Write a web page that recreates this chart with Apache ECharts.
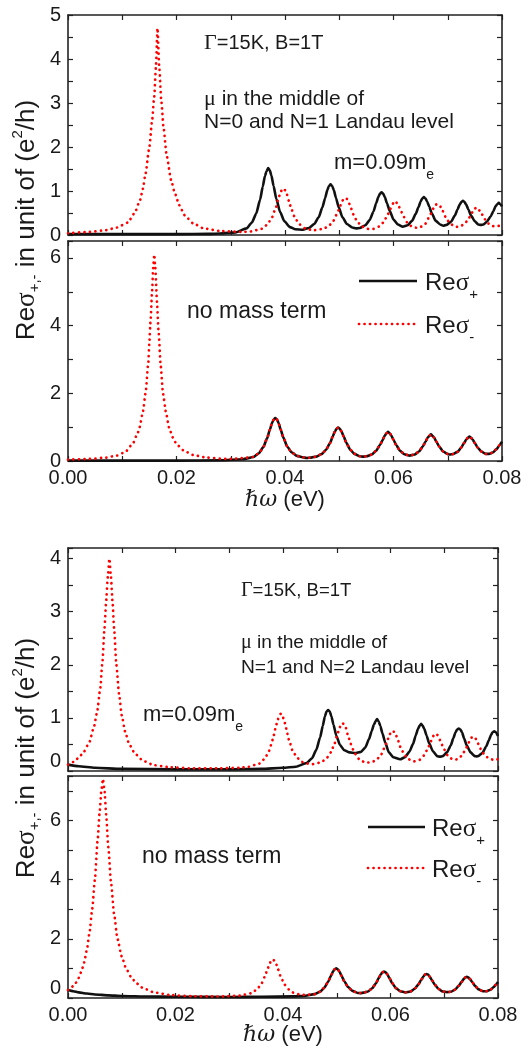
<!DOCTYPE html>
<html>
<head>
<meta charset="utf-8">
<script src="https://cdn.jsdelivr.net/npm/echarts@6/dist/echarts.min.js"></script>
<style>
  html, body { margin: 0; padding: 0; background: #fff; }
  #chart { width: 531px; height: 1055px; }
</style>
</head>
<body>
<div id="chart"></div>
<script>
// Real part of the circular conductivities Re σ+ / Re σ- (units of e²/h)
// versus photon energy ħω (eV), Γ = 15 K, B = 1 T.

const xTickLabels = ['0.00', '0.02', '0.04', '0.06', '0.08'];

// Panel A: μ between N=0 and N=1, m = 0.09 mₑ
const aPlus = [[0,0.02],[0.010,0.02],[0.020,0.02],[0.026,0.025],[0.028,0.035],[0.0309,0.06],[0.0329,0.15],[0.0339,0.285],[0.0347,0.49],[0.0354,0.80],[0.0359,1.10],[0.0363,1.34],[0.0366,1.45],[0.0369,1.52],[0.0372,1.47],[0.0375,1.35],[0.0379,1.11],[0.0384,0.82],[0.0391,0.52],[0.0399,0.31],[0.0409,0.18],[0.0419,0.13],[0.0433,0.12],[0.0444,0.16],[0.0454,0.25],[0.0462,0.40],[0.0469,0.63],[0.0474,0.84],[0.0478,1.02],[0.0481,1.11],[0.0484,1.15],[0.0487,1.11],[0.0490,1.02],[0.0494,0.84],[0.0499,0.63],[0.0506,0.40],[0.0514,0.25],[0.0524,0.17],[0.0531,0.15],[0.0538,0.16],[0.0548,0.22],[0.0556,0.34],[0.0563,0.53],[0.0568,0.72],[0.0572,0.86],[0.0575,0.94],[0.0578,0.97],[0.0581,0.94],[0.0584,0.86],[0.0588,0.72],[0.0593,0.55],[0.0600,0.35],[0.0608,0.24],[0.0617,0.19],[0.0626,0.22],[0.0634,0.32],[0.0641,0.48],[0.0646,0.63],[0.0650,0.76],[0.0653,0.83],[0.0656,0.86],[0.0659,0.83],[0.0662,0.76],[0.0666,0.64],[0.0671,0.48],[0.0678,0.32],[0.0686,0.24],[0.0692,0.21],[0.0698,0.23],[0.0706,0.30],[0.0713,0.44],[0.0718,0.58],[0.0722,0.69],[0.0725,0.75],[0.0728,0.78],[0.0731,0.75],[0.0734,0.69],[0.0738,0.58],[0.0743,0.44],[0.0750,0.31],[0.0756,0.24],[0.0761,0.23],[0.0766,0.24],[0.0772,0.30],[0.0779,0.42],[0.0784,0.54],[0.0788,0.65],[0.0791,0.70],[0.0794,0.73],[0.0797,0.70],[0.0800,0.65]];
const aMinus = [[0,0.04],[0.004,0.07],[0.007,0.11],[0.009,0.17],[0.011,0.28],[0.0123,0.50],[0.0133,0.80],[0.0138,1.05],[0.0143,1.40],[0.0150,2.00],[0.0155,2.60],[0.0159,3.15],[0.0162,3.80],[0.0165,4.70],[0.0168,3.85],[0.0172,3.05],[0.0176,2.45],[0.0182,1.80],[0.0190,1.25],[0.0197,0.95],[0.0205,0.68],[0.0215,0.45],[0.0230,0.27],[0.0250,0.15],[0.0280,0.09],[0.0320,0.07],[0.0337,0.08],[0.0357,0.14],[0.0367,0.23],[0.0375,0.37],[0.0382,0.58],[0.0387,0.78],[0.0391,0.94],[0.0394,1.02],[0.0397,1.06],[0.0400,1.02],[0.0403,0.94],[0.0407,0.78],[0.0412,0.58],[0.0419,0.37],[0.0427,0.24],[0.0437,0.15],[0.0447,0.12],[0.0455,0.11],[0.0471,0.14],[0.0481,0.21],[0.0489,0.32],[0.0496,0.48],[0.0501,0.64],[0.0505,0.76],[0.0508,0.82],[0.0511,0.84],[0.0514,0.82],[0.0517,0.76],[0.0521,0.63],[0.0526,0.47],[0.0533,0.31],[0.0541,0.20],[0.0551,0.14],[0.0558,0.135],[0.0563,0.14],[0.0573,0.19],[0.0581,0.28],[0.0588,0.42],[0.0593,0.56],[0.0597,0.67],[0.0600,0.73],[0.0603,0.77],[0.0606,0.73],[0.0609,0.67],[0.0613,0.57],[0.0618,0.43],[0.0625,0.29],[0.0633,0.20],[0.0642,0.165],[0.0651,0.19],[0.0659,0.26],[0.0666,0.41],[0.0671,0.54],[0.0675,0.64],[0.0678,0.69],[0.0681,0.71],[0.0684,0.69],[0.0687,0.64],[0.0691,0.54],[0.0696,0.41],[0.0703,0.28],[0.0711,0.205],[0.0717,0.185],[0.0723,0.20],[0.0731,0.25],[0.0738,0.36],[0.0743,0.47],[0.0747,0.55],[0.0750,0.60],[0.0753,0.63],[0.0756,0.60],[0.0759,0.55],[0.0763,0.47],[0.0768,0.36],[0.0775,0.26],[0.0783,0.20],[0.0790,0.20],[0.0800,0.22]];

// Panel B: μ between N=0 and N=1, no mass term (σ+ and σ- coincide above ~0.034 eV)
const bPlus = [[0,0.01],[0.020,0.01],[0.028,0.02],[0.0322,0.05],[0.0342,0.12],[0.0352,0.23],[0.0360,0.41],[0.0367,0.67],[0.0372,0.92],[0.0376,1.12],[0.0379,1.22],[0.0382,1.27],[0.0385,1.23],[0.0388,1.13],[0.0392,0.93],[0.0397,0.69],[0.0404,0.43],[0.0412,0.26],[0.0422,0.15],[0.0432,0.11],[0.0440,0.09],[0.0448,0.10],[0.0458,0.13],[0.0468,0.21],[0.0476,0.34],[0.0483,0.53],[0.0488,0.72],[0.0492,0.88],[0.0495,0.95],[0.0498,0.99],[0.0501,0.95],[0.0504,0.88],[0.0508,0.73],[0.0513,0.54],[0.0520,0.34],[0.0528,0.21],[0.0538,0.14],[0.0544,0.13],[0.0550,0.14],[0.0560,0.19],[0.0568,0.30],[0.0575,0.47],[0.0580,0.62],[0.0584,0.75],[0.0587,0.82],[0.0590,0.86],[0.0593,0.82],[0.0596,0.75],[0.0600,0.63],[0.0605,0.47],[0.0612,0.30],[0.0620,0.20],[0.0630,0.16],[0.0639,0.19],[0.0647,0.28],[0.0654,0.43],[0.0659,0.57],[0.0663,0.69],[0.0666,0.74],[0.0669,0.79],[0.0672,0.74],[0.0675,0.69],[0.0679,0.57],[0.0684,0.43],[0.0691,0.29],[0.0699,0.21],[0.0704,0.19],[0.0710,0.205],[0.0718,0.27],[0.0725,0.40],[0.0730,0.53],[0.0734,0.63],[0.0737,0.685],[0.0740,0.72],[0.0743,0.685],[0.0746,0.63],[0.0750,0.53],[0.0755,0.40],[0.0762,0.28],[0.0770,0.21],[0.0776,0.21],[0.0783,0.25],[0.0790,0.35],[0.0795,0.46],[0.0800,0.57]];
const bMinusLow = [[0,0.04],[0.004,0.06],[0.007,0.10],[0.009,0.16],[0.0105,0.26],[0.0119,0.50],[0.0128,0.80],[0.0132,1.00],[0.0138,1.45],[0.0143,2.00],[0.0148,2.90],[0.0150,3.50],[0.0152,4.10],[0.0155,5.00],[0.0157,5.70],[0.0159,6.10],[0.0161,5.70],[0.0164,4.70],[0.0167,3.80],[0.0171,2.80],[0.0175,2.00],[0.0181,1.40],[0.0186,1.00],[0.0193,0.70],[0.0200,0.50],[0.0212,0.32],[0.0230,0.18],[0.0255,0.10],[0.0290,0.06],[0.0310,0.07],[0.0325,0.09]];

// Panel C: μ between N=1 and N=2, m = 0.09 mₑ
const cPlus = [[0,0.12],[0.002,0.09],[0.005,0.06],[0.010,0.04],[0.020,0.03],[0.030,0.03],[0.036,0.04],[0.040,0.06],[0.0424,0.08],[0.0444,0.15],[0.0454,0.24],[0.0462,0.40],[0.0469,0.63],[0.0474,0.85],[0.0478,1.03],[0.0481,1.12],[0.0484,1.15],[0.0487,1.12],[0.0490,1.03],[0.0494,0.87],[0.0499,0.67],[0.0506,0.49],[0.0514,0.39],[0.0524,0.35],[0.0534,0.34],[0.0545,0.36],[0.0553,0.44],[0.0560,0.60],[0.0565,0.75],[0.0569,0.87],[0.0572,0.93],[0.0575,0.98],[0.0578,0.93],[0.0581,0.85],[0.0585,0.71],[0.0590,0.54],[0.0597,0.35],[0.0605,0.26],[0.0618,0.22],[0.0627,0.26],[0.0635,0.36],[0.0642,0.51],[0.0647,0.67],[0.0651,0.79],[0.0654,0.85],[0.0657,0.89],[0.0660,0.85],[0.0663,0.79],[0.0667,0.67],[0.0672,0.52],[0.0679,0.37],[0.0687,0.28],[0.0692,0.27],[0.0697,0.28],[0.0705,0.35],[0.0712,0.48],[0.0717,0.62],[0.0721,0.73],[0.0724,0.78],[0.0727,0.80],[0.0730,0.78],[0.0733,0.73],[0.0737,0.61],[0.0742,0.48],[0.0749,0.35],[0.0757,0.28],[0.0760,0.275],[0.0763,0.28],[0.0771,0.34],[0.0778,0.46],[0.0783,0.58],[0.0787,0.68],[0.0790,0.73],[0.0793,0.75],[0.0796,0.73],[0.0800,0.66]];
const cMinus = [[0,0.12],[0.001,0.17],[0.002,0.25],[0.003,0.37],[0.0040,0.55],[0.0048,0.82],[0.0054,1.10],[0.0060,1.55],[0.0064,2.05],[0.0068,2.70],[0.0071,3.20],[0.0074,3.65],[0.0077,4.00],[0.0080,3.65],[0.0083,3.15],[0.0086,2.65],[0.0090,2.00],[0.0095,1.45],[0.0100,1.05],[0.0106,0.75],[0.0114,0.50],[0.0125,0.32],[0.0140,0.19],[0.0160,0.11],[0.0190,0.07],[0.0230,0.05],[0.0280,0.05],[0.0320,0.06],[0.0336,0.08],[0.0356,0.14],[0.0366,0.23],[0.0374,0.38],[0.0381,0.59],[0.0386,0.80],[0.0390,0.96],[0.0393,1.04],[0.0396,1.08],[0.0399,1.04],[0.0402,0.96],[0.0406,0.80],[0.0411,0.59],[0.0418,0.38],[0.0426,0.25],[0.0436,0.17],[0.0446,0.14],[0.0455,0.13],[0.0471,0.16],[0.0481,0.24],[0.0489,0.35],[0.0496,0.52],[0.0501,0.68],[0.0505,0.81],[0.0508,0.87],[0.0511,0.90],[0.0514,0.87],[0.0517,0.81],[0.0521,0.67],[0.0526,0.51],[0.0533,0.34],[0.0541,0.23],[0.0551,0.17],[0.0558,0.16],[0.0564,0.16],[0.0574,0.21],[0.0582,0.30],[0.0589,0.44],[0.0594,0.57],[0.0598,0.68],[0.0601,0.735],[0.0604,0.76],[0.0607,0.735],[0.0610,0.68],[0.0614,0.575],[0.0619,0.44],[0.0626,0.30],[0.0634,0.22],[0.0643,0.18],[0.0654,0.21],[0.0662,0.29],[0.0669,0.41],[0.0674,0.53],[0.0678,0.63],[0.0681,0.68],[0.0684,0.70],[0.0687,0.68],[0.0690,0.63],[0.0694,0.535],[0.0699,0.42],[0.0706,0.30],[0.0714,0.23],[0.0719,0.21],[0.0724,0.22],[0.0732,0.28],[0.0739,0.39],[0.0744,0.50],[0.0748,0.59],[0.0751,0.63],[0.0754,0.65],[0.0757,0.63],[0.0760,0.59],[0.0764,0.50],[0.0769,0.39],[0.0776,0.29],[0.0784,0.23],[0.0792,0.21],[0.0800,0.22]];

// Panel D: μ between N=1 and N=2, no mass term (σ+ and σ- coincide above ~0.046 eV)
const dPlus = [[0,0.27],[0.001,0.23],[0.002,0.19],[0.0035,0.15],[0.005,0.12],[0.0075,0.09],[0.010,0.07],[0.015,0.05],[0.020,0.04],[0.030,0.035],[0.036,0.04],[0.0419,0.055],[0.0439,0.07],[0.0459,0.13],[0.0469,0.21],[0.0477,0.35],[0.0484,0.55],[0.0489,0.74],[0.0493,0.89],[0.0496,0.97],[0.0499,1.00],[0.0502,0.97],[0.0505,0.89],[0.0509,0.75],[0.0514,0.565],[0.0521,0.37],[0.0529,0.24],[0.0539,0.17],[0.0544,0.166],[0.0550,0.18],[0.0558,0.22],[0.0566,0.33],[0.0573,0.50],[0.0578,0.67],[0.0582,0.80],[0.0585,0.87],[0.0588,0.89],[0.0591,0.87],[0.0594,0.80],[0.0598,0.67],[0.0603,0.505],[0.0610,0.335],[0.0618,0.23],[0.0628,0.19],[0.0637,0.22],[0.0645,0.31],[0.0652,0.46],[0.0657,0.61],[0.0661,0.72],[0.0664,0.79],[0.0667,0.81],[0.0670,0.79],[0.0673,0.72],[0.0677,0.605],[0.0682,0.46],[0.0689,0.31],[0.0697,0.22],[0.0705,0.20],[0.0712,0.21],[0.0720,0.28],[0.0727,0.41],[0.0732,0.535],[0.0736,0.64],[0.0739,0.69],[0.0742,0.72],[0.0745,0.69],[0.0748,0.64],[0.0752,0.54],[0.0757,0.41],[0.0764,0.29],[0.0772,0.23],[0.0779,0.23],[0.0786,0.28],[0.0792,0.37],[0.0796,0.45],[0.0800,0.54]];
const dMinusLow = [[0,0.27],[0.0010,0.40],[0.0015,0.52],[0.0020,0.68],[0.0025,0.90],[0.0030,1.20],[0.0035,1.62],[0.0040,2.20],[0.0045,3.00],[0.0050,4.00],[0.0055,5.30],[0.0059,6.30],[0.0062,7.00],[0.0065,7.40],[0.0068,7.00],[0.0071,6.20],[0.0075,5.10],[0.0080,3.90],[0.0086,2.80],[0.0092,2.00],[0.0100,1.40],[0.0108,1.00],[0.0117,0.72],[0.0127,0.50],[0.0140,0.33],[0.0160,0.19],[0.0190,0.10],[0.0230,0.06],[0.0280,0.05],[0.0320,0.08],[0.0341,0.16],[0.0351,0.28],[0.0359,0.45],[0.0366,0.71],[0.0371,0.96],[0.0375,1.16],[0.0378,1.26],[0.0381,1.31],[0.0384,1.26],[0.0387,1.16],[0.0391,0.96],[0.0396,0.71],[0.0403,0.45],[0.0411,0.29],[0.0421,0.16],[0.0431,0.12],[0.0441,0.10]];

// Above the low-energy σ- resonances both polarisations follow the same curve
const bMinus = bMinusLow.concat(bPlus.filter(p => p[0] >= 0.0342));
const dMinus = dMinusLow.concat(dPlus.filter(p => p[0] >= 0.0459));

const SANS = "'Liberation Sans', Arial, sans-serif";
const SERIF = "'Liberation Serif', 'Times New Roman', serif";
const INK = '#1a1a1a';
const FRAME = '#222222';
const RED = '#ff0000';
const DOTS = [0.1, 5.4];

const panels = [
  { plus: aPlus, minus: aMinus, yMax: 5,   yStep: 0.5, labelStep: 1, xLabels: false, grid: { left: 68, width: 434, top: 15,  height: 220 } },
  { plus: bPlus, minus: bMinus, yMax: 6.5, yStep: 1,   labelStep: 2, xLabels: true,  grid: { left: 68, width: 434, top: 241, height: 220 } },
  { plus: cPlus, minus: cMinus, yMax: 4.2, yStep: 0.5, labelStep: 1, xLabels: false, grid: { left: 68, width: 430, top: 548, height: 223 }, liftZero: true },
  { plus: dPlus, minus: dMinus, yMax: 7.5, yStep: 1,   labelStep: 2, xLabels: true,  grid: { left: 68, width: 430, top: 776, height: 222 }, liftZero: true }
];

function xLabel(v) {
  const k = Math.round(v * 100);
  if (Math.abs(v * 100 - k) > 1e-6 || k % 2) return '';
  return xTickLabels[k / 2] || '';
}
function yLabel(step, liftZero) {
  return v => {
    const k = Math.round(v / step);
    if (Math.abs(v - k * step) > 1e-6) return '';
    if (v === 0 && liftZero) return '{z|0}';
    return String(Math.round(v));
  };
}

const axisLineStyle = { show: true, onZero: false, lineStyle: { color: FRAME, width: 1.6 } };
const tickStyle = { show: true, inside: true, length: 5, lineStyle: { color: FRAME, width: 1.2 } };
const tickFont = { fontSize: 20, fontFamily: SANS, color: INK };

const grid = [], xAxis = [], yAxis = [], series = [];
panels.forEach((p, i) => {
  grid.push(Object.assign({ containLabel: false }, p.grid));
  const xBase = { type: 'value', gridIndex: i, min: 0, max: 0.08, interval: 0.01,
    splitLine: { show: false }, axisLine: axisLineStyle, axisTick: tickStyle };
  xAxis.push(Object.assign({}, xBase, { position: 'bottom',
    axisLabel: Object.assign({ show: p.xLabels, margin: 7, formatter: xLabel }, tickFont) }));
  xAxis.push(Object.assign({}, xBase, { position: 'top', axisLabel: { show: false } }));
  const yBase = { type: 'value', gridIndex: i, min: 0, max: p.yMax, interval: p.yStep,
    splitLine: { show: false }, axisLine: axisLineStyle, axisTick: tickStyle };
  yAxis.push(Object.assign({}, yBase, { position: 'left',
    axisLabel: Object.assign({ show: true, margin: 7, formatter: yLabel(p.labelStep, p.liftZero),
      rich: { z: { fontSize: 20, fontFamily: SANS, color: INK, padding: [0, 0, 20, 0] } } }, tickFont) }));
  yAxis.push(Object.assign({}, yBase, { position: 'right', axisLabel: { show: false } }));

  series.push({ type: 'line', name: 'Reσ+', xAxisIndex: 2 * i, yAxisIndex: 2 * i, data: p.plus,
    showSymbol: false, symbol: 'none', smooth: 0.2, smoothMonotone: 'x', silent: true, z: 3,
    lineStyle: { color: '#111111', width: 2.6, join: 'round' } });
  series.push({ type: 'line', name: 'Reσ-', xAxisIndex: 2 * i, yAxisIndex: 2 * i, data: p.minus,
    showSymbol: false, symbol: 'none', smooth: 0.2, smoothMonotone: 'x', silent: true, z: 4,
    lineStyle: { color: RED, width: 2.7, type: DOTS, cap: 'round' } });
});

// Text helpers
function txt(x, y, text, size, rich, extra) {
  return { type: 'text', x: x, y: y, silent: true, z: 10,
    style: Object.assign({ text: text, fontSize: size, fontFamily: SANS, fill: INK,
      align: 'left', verticalAlign: 'middle', rich: rich || {} }, extra || {}) };
}
function greek(size) { return { fontSize: size, fontFamily: SERIF, fill: INK }; }
function lowered(size, drop) { return { fontSize: size, fontFamily: SANS, fill: INK, padding: [drop, 0, 0, 0] }; }
function raised(size, lift) { return { fontSize: size, fontFamily: SANS, fill: INK, padding: [0, 0, lift, 0] }; }

const legendRich = { g: greek(25), sb: lowered(15, 24) };
function legendBlock(x0, x1, yTop, yBot, tx) {
  return [
    { type: 'line', silent: true, z: 10, shape: { x1: x0, y1: yTop, x2: x1, y2: yTop },
      style: { stroke: '#111111', lineWidth: 2.6 } },
    txt(tx, yTop + 2, 'Re{g|σ}{sb|+}', 24, legendRich),
    { type: 'line', silent: true, z: 10, shape: { x1: x0, y1: yBot, x2: x1, y2: yBot },
      style: { stroke: RED, lineWidth: 2.7, lineDash: DOTS, lineCap: 'round' } },
    txt(tx, yBot + 2, 'Re{g|σ}{sb|-}', 24, legendRich)
  ];
}

const yTitleRich = { g: greek(27), sb: lowered(15, 16), sp: raised(15, 18) };
const yTitleText = 'Re{g|σ}{sb|+,-} in unit of (e{sp|2}/h)';
const xTitleRich = { i: { fontSize: 22, fontFamily: "'DejaVu Serif', serif", fontStyle: 'italic', fill: INK } };
const xTitleText = '{i|ℏω} (eV)';
const muRich = { g: greek(22) };
const muRichSmall = { g: greek(20) };
const massRich = { sb: lowered(14, 24) };

const graphic = [
  // upper figure
  txt(204, 43, '{g|Γ}=15K, B=1T', 20, muRich),
  txt(204, 99, '{g|μ} in the middle of', 21, muRich),
  txt(204, 122, 'N=0 and N=1 Landau level', 21),
  txt(334, 163, 'm=0.09m{sb|e}', 22, massRich),
  txt(187, 312, 'no mass term', 23),
  ...legendBlock(359, 417, 281, 324, 425),
  txt(27, 220, yTitleText, 26, yTitleRich, { align: 'center' }),
  txt(285, 500, xTitleText, 22, xTitleRich, { align: 'center' }),
  // lower figure
  txt(241, 591, '{g|Γ}=15K, B=1T', 18.5, muRichSmall),
  txt(241, 643, '{g|μ} in the middle of', 19.2, muRichSmall),
  txt(241, 668, 'N=1 and N=2 Landau level', 19.2),
  txt(143, 715, 'm=0.09m{sb|e}', 22, massRich),
  txt(142, 857, 'no mass term', 23),
  ...legendBlock(368, 425, 827, 868, 432),
  txt(27, 758, yTitleText, 26, yTitleRich, { align: 'center' }),
  txt(283, 1035, xTitleText, 22, xTitleRich, { align: 'center' })
];
// the y-axis titles read bottom-to-top
graphic.forEach(g => { if (g.style && g.style.text === yTitleText) g.rotation = Math.PI / 2; });

const chart = echarts.init(document.getElementById('chart'), null, { renderer: 'canvas' });
chart.setOption({
  animation: false,
  backgroundColor: '#ffffff',
  grid: grid,
  xAxis: xAxis,
  yAxis: yAxis,
  series: series,
  graphic: graphic
});
</script>
</body>
</html>
